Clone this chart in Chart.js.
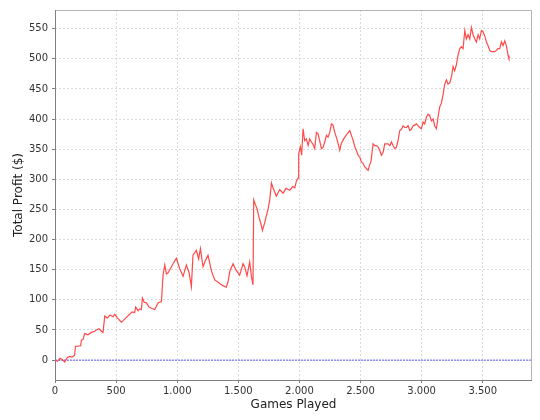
<!DOCTYPE html>
<html lang="en">
<head>
    <meta charset="UTF-8">
    <title>Total Profit</title>
    <script src="https://cdn.jsdelivr.net/npm/chart.js"></script>
    <style>
        body {
            margin: 0;
            background-color: #ffffff;
            font-family: "DejaVu Sans", sans-serif;
        }

        .chart-container {
            position: relative;
            width: 540px;
            height: 420px;
        }
    </style>
</head>
<body>
    <div class="chart-container">
        <canvas id="profitChart" width="540" height="420"></canvas>
    </div>

    <script>
        // games played (x) and running total profit in $ (y)
        const games = [
            0, 20, 40, 60, 80, 100, 120, 140, 161, 167, 190, 210, 216, 229, 243, 270, 298, 325, 338, 360,
            380, 393, 407, 430, 450, 475, 489, 510, 543, 560, 584, 611, 630, 652, 660, 680, 693, 707, 715, 730,
            748, 770, 789, 816, 843, 871, 884, 898, 912, 925, 945, 966, 993, 1020, 1048, 1075, 1097, 1116, 1129, 1157,
            1175, 1190, 1211, 1230, 1252, 1280, 1307, 1330, 1348, 1370, 1402, 1416, 1430, 1457, 1479, 1511, 1539, 1552, 1571, 1593,
            1607, 1620, 1626, 1640, 1655, 1667, 1689, 1697, 1716, 1730, 1743, 1757, 1771, 1784, 1811, 1839, 1866, 1890, 1921, 1945,
            1962, 1975, 1989, 1994, 2008, 2018, 2030, 2043, 2057, 2071, 2084, 2098, 2111, 2125, 2139, 2152, 2166, 2180, 2193, 2207,
            2221, 2234, 2248, 2262, 2275, 2289, 2302, 2316, 2330, 2343, 2357, 2371, 2390, 2412, 2425, 2439, 2452, 2466, 2480, 2494,
            2507, 2520, 2534, 2548, 2562, 2575, 2585, 2603, 2617, 2630, 2645, 2657, 2671, 2685, 2698, 2712, 2725, 2740, 2753, 2766,
            2780, 2793, 2807, 2821, 2835, 2848, 2862, 2875, 2889, 2903, 2916, 2930, 2943, 2957, 2970, 2984, 2998, 3012, 3025, 3039,
            3053, 3066, 3080, 3094, 3107, 3121, 3134, 3148, 3161, 3175, 3189, 3203, 3216, 3230, 3244, 3257, 3270, 3284, 3298, 3312,
            3325, 3339, 3353, 3366, 3380, 3394, 3407, 3421, 3435, 3448, 3462, 3475, 3489, 3502, 3516, 3530, 3543, 3557, 3570, 3584,
            3598, 3612, 3625, 3639, 3653, 3666, 3680, 3693, 3707, 3714, 3721
        ];
        const profit = [
            0, -2, 3, 1, -3, 4, 6, 5, 8, 23, 23, 24, 33, 34, 44, 42, 46, 48, 50, 52,
            48, 46, 73, 70, 75, 72, 76, 70, 63, 66, 71, 76, 80, 79, 88, 82, 85, 84, 103, 96,
            95, 88, 86, 84, 95, 97, 141, 158, 143, 145, 152, 160, 169, 152, 139, 158, 145, 122, 174, 182,
            168, 185, 155, 165, 174, 148, 133, 130, 127, 124, 121, 130, 147, 160, 150, 141, 160, 155, 140, 163,
            139, 125, 266, 258, 250, 239, 223, 215, 228, 240, 250, 266, 294, 286, 272, 283, 277, 285, 282, 288,
            286, 297, 302, 343, 354, 340, 384, 364, 367, 356, 367, 362, 358, 351, 378, 376, 364, 351, 353, 362,
            373, 370, 378, 392, 390, 378, 370, 360, 348, 360, 365, 370, 375, 381, 373, 365, 355, 348, 340, 337,
            329, 327, 321, 318, 315, 324, 329, 359, 356, 356, 353, 348, 340, 345, 359, 359, 359, 356, 362, 356,
            351, 353, 364, 381, 383, 389, 386, 386, 389, 381, 383, 389, 390, 392, 389, 386, 384, 395, 392, 403,
            408, 406, 397, 400, 389, 384, 403, 420, 426, 440, 458, 465, 458, 460, 470, 487, 480, 490, 506, 517,
            520, 517, 547, 533, 540, 533, 552, 540, 533, 528, 540, 533, 547, 545, 538, 528, 522, 514, 512, 512,
            512, 514, 517, 517, 528, 522, 530, 522, 506, 501, 503
        ];

        const xTicks = [0, 500, 1000, 1500, 2000, 2500, 3000, 3500];
        const yTicks = [0, 50, 100, 150, 200, 250, 300, 350, 400, 450, 500, 550];
        const xRange = [0, 3903];
        const yRange = [-33, 581];

        const fontFamily = '"DejaVu Sans", sans-serif';

        function dotted(n) {
            // 1.000 style thousands separator
            return String(n).replace(/\B(?=(\d{3})+(?!\d))/g, '.');
        }

        // solid axis lines on left/bottom, light frame on top/right
        const outline = {
            id: 'outline',
            afterDraw(chart) {
                const a = chart.chartArea;
                const ctx = chart.ctx;
                ctx.save();
                ctx.lineWidth = 1;
                ctx.strokeStyle = '#b4b4b4';
                ctx.beginPath();
                ctx.moveTo(a.left, a.top + 0.5);
                ctx.lineTo(a.right - 0.5, a.top + 0.5);
                ctx.lineTo(a.right - 0.5, a.bottom);
                ctx.stroke();
                ctx.strokeStyle = '#808080';
                ctx.beginPath();
                ctx.moveTo(a.left + 0.5, a.top);
                ctx.lineTo(a.left + 0.5, a.bottom + 0.5);
                ctx.lineTo(a.right, a.bottom + 0.5);
                ctx.stroke();
                ctx.restore();
            }
        };

        const points = games.map((g, i) => ({ x: g, y: profit[i] }));

        const gridOpts = {
            color: '#dadada',
            tickLength: 3,
            tickColor: '#808080',
            tickBorderDash: []
        };

        new Chart(document.getElementById('profitChart').getContext('2d'), {
            type: 'line',
            data: {
                datasets: [{
                    label: 'Total Profit',
                    data: points,
                    borderColor: '#ff4a4a',
                    borderWidth: 1.2,
                    pointRadius: 0,
                    tension: 0
                }, {
                    label: 'Zero',
                    data: [{ x: xRange[0], y: 0 }, { x: xRange[1], y: 0 }],
                    borderColor: '#5a5aff',
                    borderWidth: 1,
                    borderDash: [2, 1],
                    pointRadius: 0
                }]
            },
            options: {
                responsive: false,
                animation: false,
                layout: { padding: { top: 4, right: 8, left: 12, bottom: 8 } },
                plugins: {
                    legend: { display: false },
                    tooltip: { enabled: false }
                },
                scales: {
                    x: {
                        type: 'linear',
                        min: xRange[0],
                        max: xRange[1],
                        afterBuildTicks: s => { s.ticks = xTicks.map(v => ({ value: v })); },
                        afterFit: s => { s.height = 32; },
                        ticks: {
                            callback: v => dotted(v),
                            color: '#333333',
                            font: { family: fontFamily, size: 10 },
                            padding: 2,
                            maxRotation: 0
                        },
                        grid: gridOpts,
                        border: { display: false, dash: [2, 2] },
                        title: {
                            display: true,
                            text: 'Games Played',
                            color: '#222222',
                            font: { family: fontFamily, size: 12 },
                            padding: { top: 2, bottom: 0 }
                        }
                    },
                    y: {
                        type: 'linear',
                        min: yRange[0],
                        max: yRange[1],
                        afterBuildTicks: s => { s.ticks = yTicks.map(v => ({ value: v })); },
                        afterFit: s => { s.width = 43; },
                        ticks: {
                            color: '#333333',
                            font: { family: fontFamily, size: 10 },
                            padding: 4
                        },
                        grid: gridOpts,
                        border: { display: false, dash: [2, 2] },
                        title: {
                            display: true,
                            text: 'Total Profit ($)',
                            color: '#222222',
                            font: { family: fontFamily, size: 12 },
                            padding: { top: 0, bottom: 2 }
                        }
                    }
                }
            },
            plugins: [outline]
        });
    </script>
</body>
</html>
